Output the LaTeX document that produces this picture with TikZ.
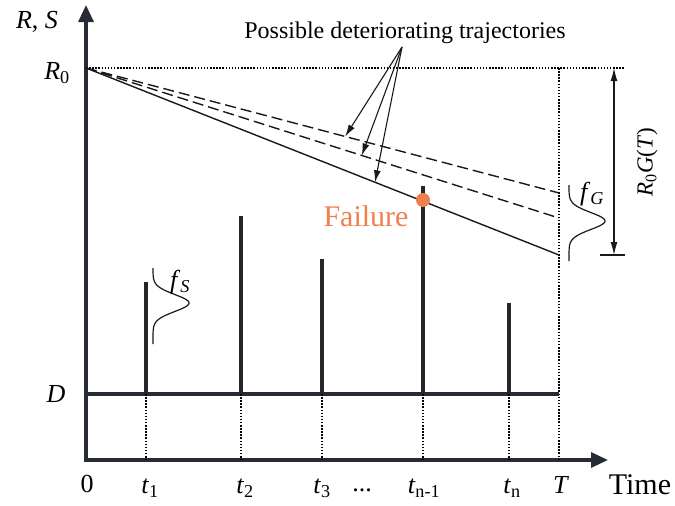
\documentclass[tikz,border=0pt]{standalone}
\usepackage{fontspec}
\setmainfont{Liberation Serif}
\usetikzlibrary{arrows.meta,calc}
\definecolor{axisnavy}{HTML}{272B35}
\definecolor{failorange}{HTML}{F07F4E}
\tikzset{
  axisline/.style={line width=3.2pt,axisnavy},
  spike/.style={line width=3.6pt,black!85},
  guide/.style={line width=1.1pt,dash pattern=on 1.5pt off 1.6pt},
  traj/.style={line width=1.4pt,black!90},
  pointer/.style={line width=1.1pt,black!90,-{Latex[length=12pt,width=7pt]}},
  lbl/.style={font=\fontsize{26}{28}\selectfont,inner sep=0pt},
  smalllbl/.style={font=\fontsize{23}{25}\selectfont,inner sep=0pt},
}

\begin{document}
\begin{tikzpicture}[x=1pt,y=-1pt]
\useasboundingbox (0,0) rectangle (675,506);
% axes
\coordinate (orig) at (86,460);
\coordinate (ytip) at (86,5);
\coordinate (xtip) at (608,460);
\draw[axisline,line join=miter,{Triangle[length=17pt,width=15pt]}-{Triangle[length=17pt,width=15pt]}] (ytip) -- (orig) -- (xtip);
\node[lbl] (rs) at (37,22) {\textit{R}, \textit{S}};
\node[lbl] (rzero) at (57,73) {\textit{R}\textsubscript{0}};
\node[lbl] (dlbl) at (56,394) {\textit{D}};
% R0 level and horizon T
\coordinate (r0) at (86,68);
\coordinate (r0end) at (625,68);
\coordinate (ttop) at (559,68);
\coordinate (tbot) at (559,460);
\draw[guide] (r0) -- (r0end);
\draw[guide] (ttop) -- (tbot);
% trajectories
\coordinate (endA) at (559,193);
\coordinate (endB) at (559,218);
\coordinate (endC) at (559,255);
\draw[traj,dash pattern=on 11pt off 5pt] (r0) -- (endA);
\draw[traj,dash pattern=on 11pt off 5pt] (r0) -- (endB);
\draw[traj] (r0) -- (endC);
% threshold D
\coordinate (dleft) at (86,394);
\coordinate (dright) at (559,394);
\draw[axisline] (dleft) -- (dright);
% load spikes
\foreach \x/\h/\n in {146/282/1,241/216/2,322/259/3,423/186/4,509/303/5}{
  \coordinate (foot\n) at (\x,394);
  \coordinate (top\n) at (\x,\h);
  \coordinate (base\n) at (\x,460);
  \draw[spike] (foot\n) -- (top\n);
  \draw[guide] (foot\n) -- (base\n);
}
\fill[failorange] (423,200) circle (7pt);
\node[font=\fontsize{30}{32}\selectfont,text=failorange,inner sep=0pt] (fail) at (366,216) {Failure};
% pointers to trajectories
\node[font=\fontsize{24}{26}\selectfont,inner sep=0pt] (poss) at (405,33) {Possible deteriorating trajectories};
\coordinate (pfrom) at (402,47);
\coordinate (pA) at ($(r0)!0.548!(endA)$);
\coordinate (pB) at ($(r0)!0.583!(endB)$);
\coordinate (pC) at ($(r0)!0.611!(endC)$);
\draw[pointer] (pfrom) -- (pA);
\draw[pointer] (pfrom) -- (pB);
\draw[pointer] (pfrom) -- (pC);
% R0 G(T)
\coordinate (gtop) at (614,68);
\coordinate (gbot) at (614,255);
\coordinate (tickl) at (600,255);
\coordinate (tickr) at (625,255);
\draw[line width=1.1pt,black!90,{Latex[length=13pt,width=7pt]}-{Latex[length=13pt,width=7pt]}] (gtop) -- (gbot);
\draw[line width=1.1pt,black!90] (tickl) -- (tickr);
\node[smalllbl,rotate=90] (rgt) at (647,162) {\textit{R}\textsubscript{0}\textit{G}(\textit{T})};
% densities
\draw[line width=1.2pt,black!90] plot[domain=185:261,samples=80,smooth] ({569+36*exp(-1*pow((\x-221)/12,2))},\x);
\node[lbl] (fg) at (592,194) {\textit{f}\textsubscript{\textit{G}}};
\draw[line width=1.2pt,black!90] plot[domain=268:344,samples=80,smooth] ({153+36*exp(-1*pow((\x-303)/12,2))},\x);
\node[lbl] (fs) at (180,282) {\textit{f}\textsubscript{\textit{S}}};
% time labels
\node[lbl] (zero) at (87,484) {0};
\node[lbl] (tone) at (150,488) {\textit{t}\textsubscript{1}};
\node[lbl] (ttwo) at (245,488) {\textit{t}\textsubscript{2}};
\node[lbl] (tthree) at (322,488) {\textit{t}\textsubscript{3}};
\node[lbl] (dots) at (362,490) {...};
\node[lbl] (tnm) at (424,488) {\textit{t}\textsubscript{n-1}};
\node[lbl] (tn) at (512,488) {\textit{t}\textsubscript{n}};
\node[lbl] (tcap) at (561,485) {\textit{T}};
\node[font=\fontsize{30}{32}\selectfont,inner sep=0pt] (time) at (640,485) {Time};
\end{tikzpicture}
\end{document}
